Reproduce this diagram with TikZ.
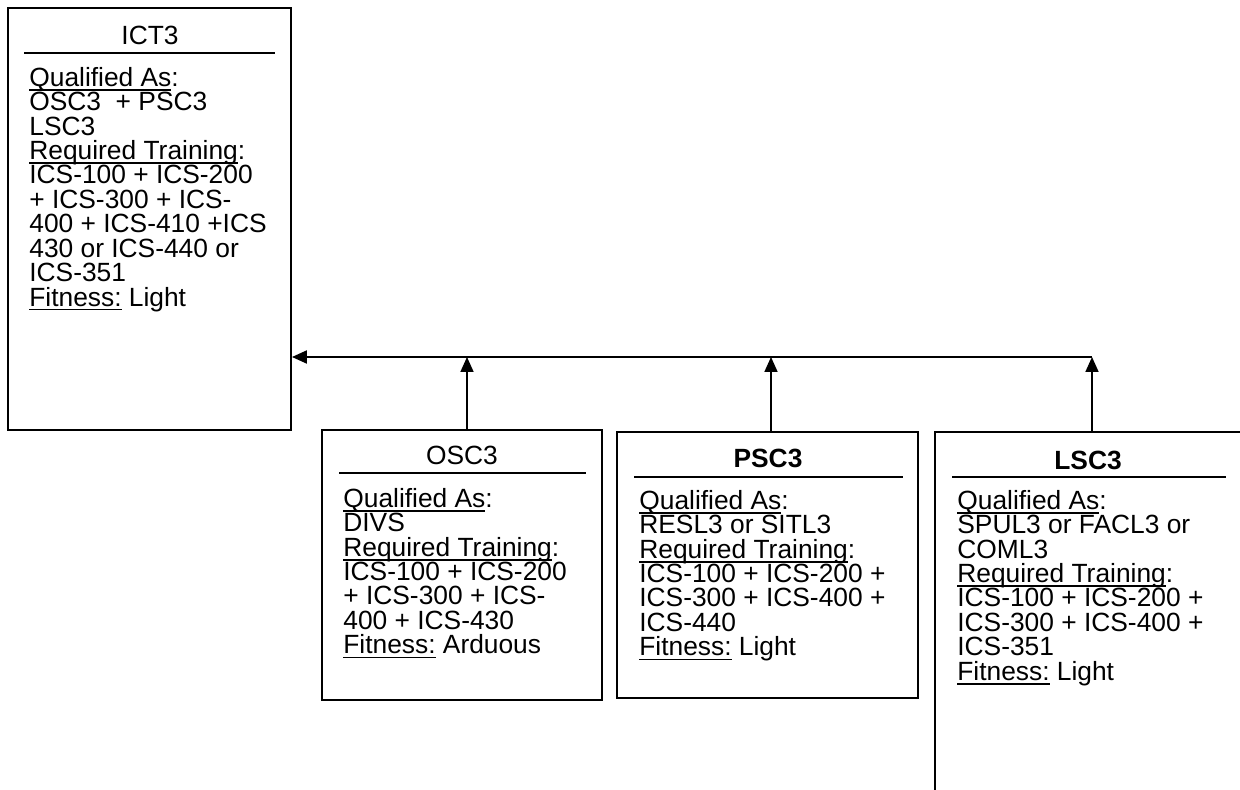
\documentclass[tikz,border=0pt]{standalone}
\usepackage{fontspec}
\setmainfont{Liberation Sans}
\usetikzlibrary{arrows.meta,fit}
\newcommand{\boxfont}{\fontsize{15}{13.9}\selectfont\lineskiplimit=-30pt\relax}
\newcommand{\uln}[1]{\setbox0=\hbox{#1}\rlap{\rule[-2.5pt]{\wd0}{0.95pt}}\box0\relax}

\begin{document}
\begin{tikzpicture}[x=0.02cm,y=-0.02cm,
  box/.style={draw,line width=1.1pt,inner sep=0pt},
  head/.style={anchor=base,inner sep=0pt,font=\boxfont},
  body/.style={anchor=north west,inner sep=0pt,align=left,font=\boxfont},
  hrule/.style={line width=1.1pt},
  arr/.style={-{Triangle[length=8.5pt,width=7.4pt]},line width=0.9pt}]
  \useasboundingbox (0,0) rectangle (1240,790);
  \clip (0,0) rectangle (1240,790);
  % boxes
  \node[box,fit={(8,8) (291,430)}] (ict) {};
  \node[box,fit={(322,430) (602,700)}] (osc) {};
  \node[box,fit={(617,432) (918,698)}] (psc) {};
  \node[box,fit={(935,432) (1249,830)}] (lsc) {};
  % headings
  \node[head] (ict-t) at (150,45) {ICT3};
  \draw[hrule] (24,53) -- (275,53);
  \node[head] (osc-t) at (462,464) {OSC3};
  \draw[hrule] (339,473) -- (586,473);
  \node[head] (psc-t) at (768,467) {\bfseries PSC3};
  \draw[hrule] (634,477) -- (903,477);
  \node[head] (lsc-t) at (1088,469) {\bfseries LSC3};
  \draw[hrule] (952,477) -- (1226,477);
  % contents
  \node[body] (ict-b) at (29,66.6) {\rule{0pt}{11pt}\uln{Qualified As}:\\
    OSC3~~+ PSC3\\ LSC3\\ \uln{Required Training}:\\
    ICS-100 + ICS-200\\ + ICS-300 + ICS-\\ 400 + ICS-410 +ICS\\
    430 or ICS-440 or\\ ICS-351\\ \uln{Fitness:} Light};
  \node[body] (osc-b) at (343,487.6) {\rule{0pt}{11pt}\uln{Qualified As}:\\
    DIVS\\ \uln{Required Training}:\\ ICS-100 + ICS-200\\
    + ICS-300 + ICS-\\ 400 + ICS-430\\ \uln{Fitness:} Arduous};
  \node[body] (psc-b) at (639,489.6) {\rule{0pt}{11pt}\uln{Qualified As}:\\
    RESL3 or SITL3\\ \uln{Required Training}:\\ ICS-100 + ICS-200 +\\
    ICS-300 + ICS-400 +\\ ICS-440\\ \uln{Fitness:} Light};
  \node[body] (lsc-b) at (957,489.6) {\rule{0pt}{11pt}\uln{Qualified As}:\\
    SPUL3 or FACL3 or\\ COML3\\ \uln{Required Training}:\\
    ICS-100 + ICS-200 +\\ ICS-300 + ICS-400 +\\ ICS-351\\
    \uln{Fitness:} Light};
  % connectors
  \coordinate (jo) at (467,357);
  \coordinate (jp) at (771,357);
  \coordinate (jl) at (1092,357);
  \draw[arr] (osc.north -| jo) -- (jo);
  \draw[arr] (psc.north -| jp) -- (jp);
  \draw[arr] (lsc.north -| jl) -- (jl);
  \draw[arr,line width=1.1pt] (jl) -- (ict.east |- jl);
\end{tikzpicture}
\end{document}
